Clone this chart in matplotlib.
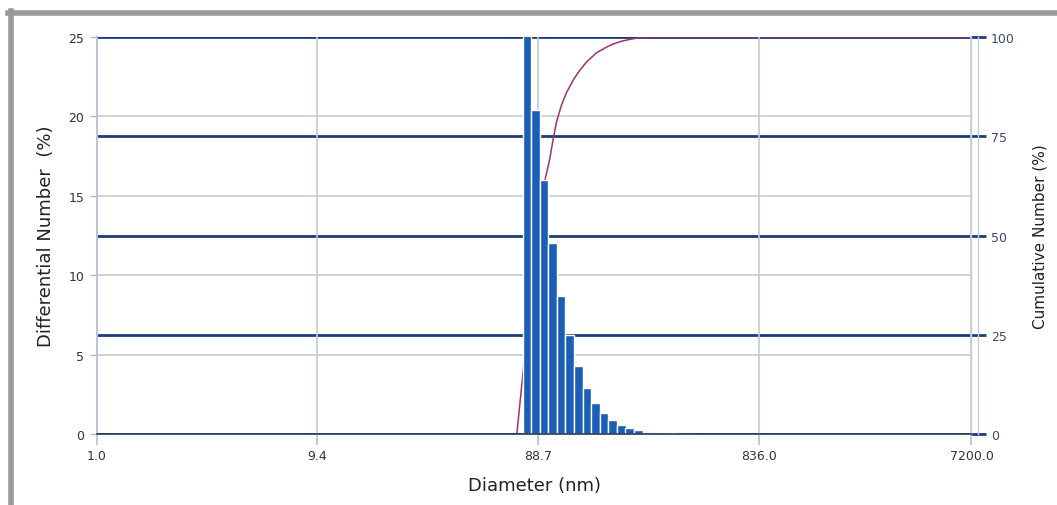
import matplotlib.pyplot as plt
from matplotlib.lines import Line2D

# size distribution (diameter in nm, differential number in %)
diameter = [78.8, 86.0, 93.8, 102.3, 111.6, 121.8, 132.9, 145.0, 158.2, 172.6,
            188.3, 205.5, 224.2, 244.6, 266.8, 291.1, 317.6, 346.5, 378.0, 412.4]
diff_number = [27.0, 20.4, 16.0, 12.0, 8.7, 6.25, 4.3, 2.9, 1.95, 1.3,
               0.9, 0.55, 0.4, 0.23, 0.15, 0.12, 0.1, 0.05, 0.03, 0.02]

# cumulative curve
cum_x = [71.2, 75.7, 81.8, 94.6, 99.5, 103.0, 106.5, 112.0, 117.9, 127.0, 134.9,
         145.0, 159.8, 175.0, 188.6, 205.0, 224.1, 255.6, 7200.0]
cum_y = [0, 15, 34.5, 63.8, 69.3, 74.3, 78.6, 82.8, 86.0, 89.4, 91.6,
         93.8, 96.0, 97.3, 98.2, 98.9, 99.4, 100, 100]

x_ticks = [1.0, 9.4, 88.7, 836.0, 7200.0]
x_ticklabels = ['1.0', '9.4', '88.7', '836.0', '7200.0']
left_ticks = [0, 5, 10, 15, 20, 25]
right_ticks = [0, 25, 50, 75, 100]

navy = '#1d3c78'
bar_blue = '#1b5eb6'
grid_gray = '#c9ccd3'

fig = plt.figure(figsize=(10.57, 5.06), dpi=100)
ax = fig.add_axes([0.0915, 0.1403, 0.8276, 0.7846])
ax2 = ax.twinx()
ax2.set_zorder(ax.get_zorder() - 1)
ax.patch.set_visible(False)

ax.set_xscale('log')
ax.set_xlim(1.0, 7200.0)
ax.set_ylim(0, 25)
ax2.set_ylim(0, 100)

# bars on a log axis: constant width in log space
hw = 10 ** 0.019
lefts = [d / hw for d in diameter]
widths = [d * hw - d / hw for d in diameter]
ax.bar(lefts, diff_number, width=widths, align='edge', color=bar_blue,
       edgecolor='white', linewidth=1.0, zorder=3)

# cumulative line behind the bars
ax2.plot(cum_x, cum_y, color='#a3306e', lw=1.1, zorder=3)

# grids
ax2.set_yticks(right_ticks)
ax2.set_yticks([20, 40, 60, 80], minor=True)
ax2.grid(axis='y', which='major', color=navy, lw=2.0)
ax2.grid(axis='y', which='minor', color=grid_gray, lw=1.2)
ax2.tick_params(axis='y', which='minor', length=0)
ax2.tick_params(axis='y', which='major', length=11, width=2, color=navy,
                labelcolor='#3b4a68', labelsize=9, pad=3)
for s in ax2.spines.values():
    s.set_visible(False)

ax.set_xticks(x_ticks)
ax.set_xticklabels(x_ticklabels)
ax.xaxis.set_minor_locator(plt.NullLocator())
ax.grid(axis='x', color='#c2c9d9', lw=1.2)
ax.set_axisbelow(True)
ax.set_yticks(left_ticks)
ax.tick_params(axis='x', length=8, width=1.2, color='#b8c0d2', labelsize=9,
               labelcolor='#333333', pad=3)
ax.tick_params(axis='y', length=5, width=1, color='#b8b8b8', labelsize=9,
               labelcolor='#333333', pad=4)

ax.spines['top'].set_visible(False)
ax.spines['left'].set_color('#b9c5da')
ax.spines['left'].set_linewidth(1.5)
ax.spines['right'].set_color('#c5cedf')
ax.spines['right'].set_linewidth(1.0)
ax.spines['bottom'].set_color('#2b3a55')
ax.spines['bottom'].set_linewidth(1.2)
ax.spines['bottom'].set_zorder(4)
ax.plot([1.0075, 1.0075], [0, 1], transform=ax.transAxes, clip_on=False,
        color='#c5cedf', lw=1.0)

ax.set_xlabel('Diameter (nm)', fontsize=13, color='#222222')
ax.xaxis.set_label_coords(0.5, -0.107)
ax.set_ylabel('Differential Number  (%)', fontsize=13, color='#222222')
ax.yaxis.set_label_coords(-0.0476, 0.5)
ax2.set_ylabel('Cumulative Number (%)', fontsize=11, color='#222222')
ax2.yaxis.set_label_coords(1.07, 0.5)

# grey frame of the original screenshot
fig.add_artist(Line2D([0.0076, 1.0], [0.973, 0.973], color='#999999', lw=4))
fig.add_artist(Line2D([0.0100, 0.0100], [0.0, 0.977], color='#999999', lw=4))

fig.savefig('out.png', dpi=100)
